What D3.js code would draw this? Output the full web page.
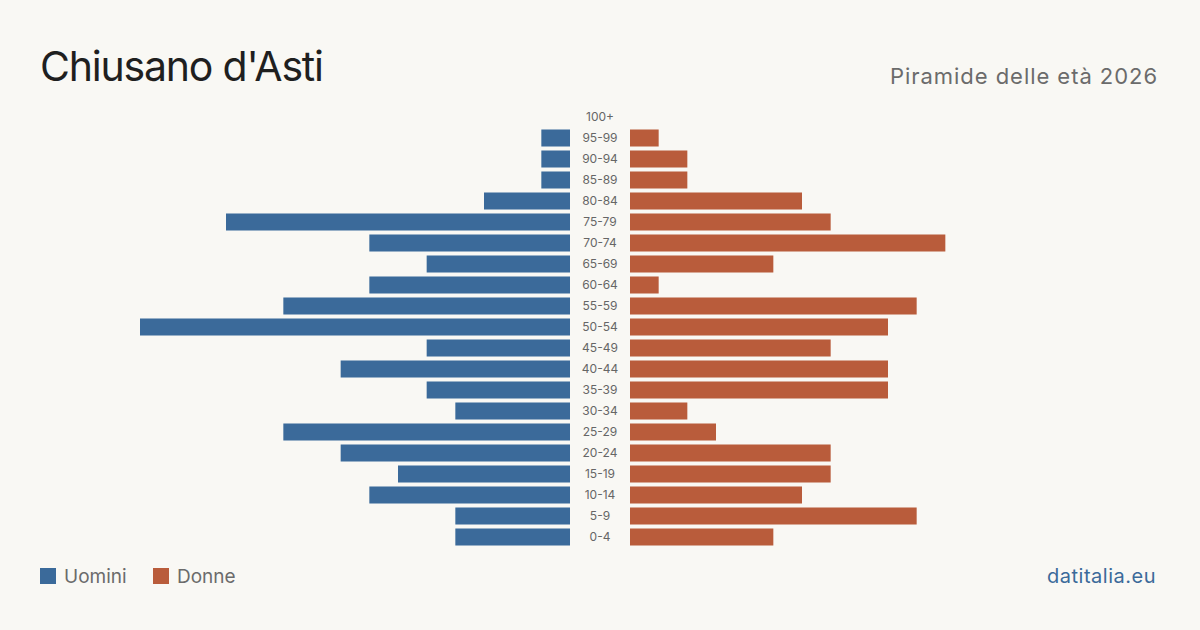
<!DOCTYPE html>
<html>
<head>
<meta charset="utf-8">
<script src="https://cdn.jsdelivr.net/npm/d3@7"></script>
<style>
  body { margin: 0; background: #f9f8f4; }
  svg { display: block; font-family: Inter, "Noto Sans", sans-serif; }
</style>
</head>
<body>
<div id="chart"></div>
<script>
const ageGroups = ["100+", "95-99", "90-94", "85-89", "80-84", "75-79", "70-74", "65-69", "60-64",
  "55-59", "50-54", "45-49", "40-44", "35-39", "30-34", "25-29", "20-24", "15-19", "10-14", "5-9", "0-4"];
const men = [0, 1, 1, 1, 3, 12, 7, 5, 7, 10, 15, 5, 8, 5, 4, 10, 8, 6, 7, 4, 4];
const women = [0, 1, 2, 2, 6, 7, 11, 5, 1, 10, 9, 7, 9, 9, 2, 3, 7, 7, 6, 10, 5];

const width = 1200, height = 630;
const center = 600, gap = 30;
const blue = "#3b6a9a", red = "#b95c3b";

const svg = d3.select("#chart").append("svg")
  .attr("width", width)
  .attr("height", height);

svg.append("rect").attr("width", width).attr("height", height).attr("fill", "#f9f8f4");

// rows from 100+ at top to 0-4 at bottom
const y = d3.scaleBand()
  .domain(ageGroups)
  .range([106.5, 547.5])
  .paddingInner(0.19)
  .paddingOuter(0.095);

const x = d3.scaleLinear().domain([0, 15]).range([0, 430]);

const rows = ageGroups.map((g, i) => ({ group: g, m: men[i], f: women[i] }));

svg.append("g").selectAll("rect")
  .data(rows)
  .enter().append("rect")
  .attr("x", d => center - gap - x(d.m))
  .attr("y", d => y(d.group))
  .attr("width", d => x(d.m))
  .attr("height", y.bandwidth())
  .attr("fill", blue);

svg.append("g").selectAll("rect")
  .data(rows)
  .enter().append("rect")
  .attr("x", center + gap)
  .attr("y", d => y(d.group))
  .attr("width", d => x(d.f))
  .attr("height", y.bandwidth())
  .attr("fill", red);

svg.append("g").selectAll("text")
  .data(rows)
  .enter().append("text")
  .attr("x", center)
  .attr("y", d => y(d.group) + y.bandwidth() / 2)
  .attr("dy", "0.35em")
  .attr("text-anchor", "middle")
  .attr("font-size", 12)
  .attr("fill", "#666")
  .text(d => d.group);

// title + subtitle
svg.append("text")
  .attr("x", 40).attr("y", 81)
  .attr("font-size", 41)
  .attr("letter-spacing", -1.2)
  .attr("fill", "#1f1f1f")
  .text("Chiusano d'Asti");

svg.append("text")
  .attr("x", 1158).attr("y", 84)
  .attr("text-anchor", "end")
  .attr("font-size", 22)
  .attr("letter-spacing", 0.95)
  .attr("fill", "#6b6b6b")
  .text("Piramide delle età 2026");

// legend
const legend = [{ label: "Uomini", color: blue, x: 40 }, { label: "Donne", color: red, x: 153 }];
const lg = svg.append("g").selectAll("g")
  .data(legend)
  .enter().append("g")
  .attr("transform", d => "translate(" + d.x + ",568)");
lg.append("rect").attr("width", 16).attr("height", 16).attr("fill", d => d.color);
lg.append("text")
  .attr("x", 24).attr("y", 15)
  .attr("font-size", 19)
  .attr("fill", "#6b6b6b")
  .text(d => d.label);

svg.append("text")
  .attr("x", 1156).attr("y", 583)
  .attr("text-anchor", "end")
  .attr("font-size", 20)
  .attr("letter-spacing", 0.5)
  .attr("fill", "#3b6a9a")
  .text("datitalia.eu");
</script>
</body>
</html>
